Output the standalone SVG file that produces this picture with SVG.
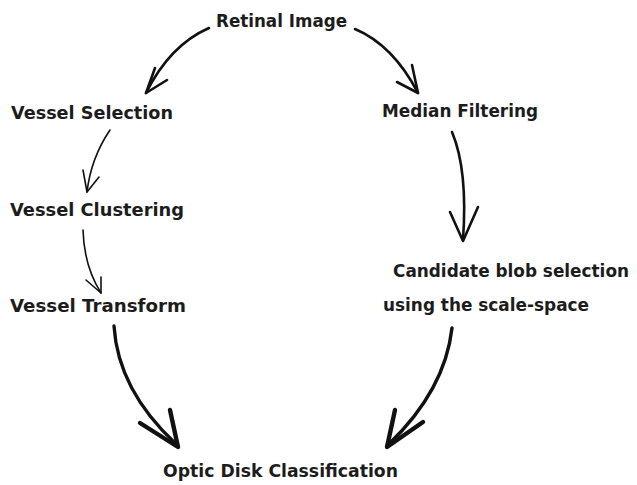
<svg xmlns="http://www.w3.org/2000/svg" width="637" height="485" viewBox="0 0 637 485">
  <style>
    .lbl { font-family: "DejaVu Sans", "Liberation Sans", sans-serif; font-size: 18px; font-weight: bold; fill: #1c1c1c; }
    .narrow { font-size: 17px; }
    .c { fill: none; stroke: #111; stroke-linecap: round; stroke-linejoin: round; }
    .thin { stroke-width: 1.6; }
    .mid { stroke-width: 2.6; }
    .thick { stroke-width: 3.4; }
    .head { stroke-width: 4.4; }
  </style>
  <rect width="637" height="485" fill="#ffffff"/>

  <g id="retinal-image"><text class="lbl" x="216" y="27" textLength="131" lengthAdjust="spacingAndGlyphs">Retinal Image</text></g>
  <g id="vessel-selection"><text class="lbl" x="11" y="119" textLength="162" lengthAdjust="spacingAndGlyphs">Vessel Selection</text></g>
  <g id="median-filtering"><text class="lbl" x="382" y="117" textLength="156" lengthAdjust="spacingAndGlyphs">Median Filtering</text></g>
  <g id="vessel-clustering"><text class="lbl" x="10" y="216" textLength="174" lengthAdjust="spacingAndGlyphs">Vessel Clustering</text></g>
  <g id="candidate-blob"><text class="lbl narrow" x="393" y="277" textLength="236" lengthAdjust="spacingAndGlyphs">Candidate blob selection</text>
    <text class="lbl" x="383" y="311" textLength="206" lengthAdjust="spacingAndGlyphs">using the scale-space</text></g>
  <g id="vessel-transform"><text class="lbl" x="10" y="312" textLength="176" lengthAdjust="spacingAndGlyphs">Vessel Transform</text></g>
  <g id="optic-disk"><text class="lbl" x="163" y="477" textLength="235" lengthAdjust="spacingAndGlyphs">Optic Disk Classification</text></g>

  <g id="connectors">
    <!-- Retinal Image to Vessel Selection -->
    <path class="c mid" d="M209,28 Q170,45 146,93"/>
    <path class="c mid" d="M155,68 L146,93 L167,80"/>
    <!-- Retinal Image to Median Filtering -->
    <path class="c mid" d="M355,29 Q393,45 418,93"/>
    <path class="c mid" d="M412,65 L418,93 L397,82"/>
    <!-- Vessel Selection to Vessel Clustering -->
    <path class="c thin" d="M110,130 Q91,158 87,192"/>
    <path class="c thin" d="M83,170 L87,192 L99,177"/>
    <!-- Vessel Clustering to Vessel Transform -->
    <path class="c thin" d="M83,230 Q84,266 101,293"/>
    <path class="c thin" d="M86,280 L101,293 L101,277"/>
    <!-- Median Filtering to Candidate blob selection -->
    <path class="c mid" d="M452,132 Q468,170 463,240"/>
    <path class="c mid" d="M450,212 L463,241 L478,207"/>
    <!-- Vessel Transform to Optic Disk Classification -->
    <path class="c thick" d="M114,326 Q118,390 176,444"/>
    <path class="c head" d="M140,423 L178,447 L170,410"/>
    <!-- scale-space blob selection to Optic Disk Classification -->
    <path class="c thick" d="M452,328 Q445,390 389,444"/>
    <path class="c head" d="M395,410 L387,447 L423,422"/>
  </g>
</svg>
